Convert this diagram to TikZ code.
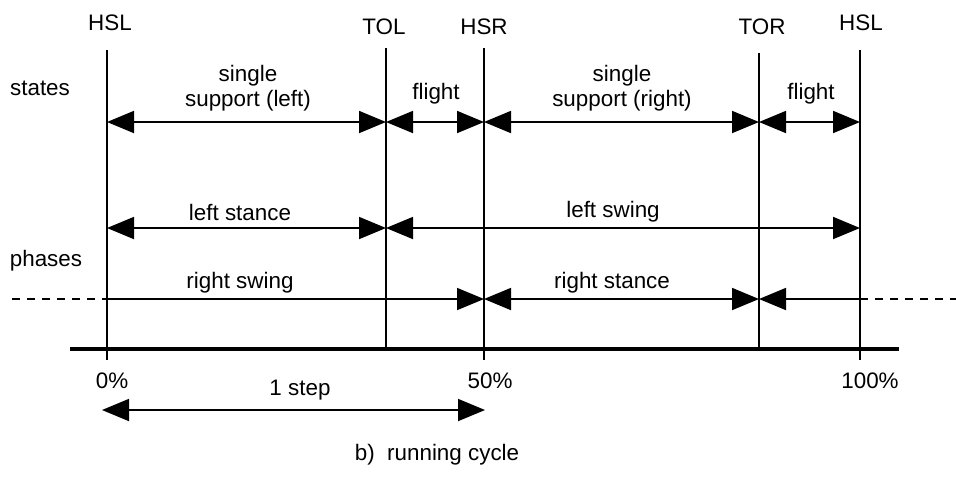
\documentclass[tikz,border=0pt]{standalone}
\usepackage{fontspec}
\setmainfont{Liberation Sans}
\usetikzlibrary{arrows.meta}
\begin{document}
\begin{tikzpicture}[x=0.5pt,y=-0.5pt,
  every node/.style={font=\fontsize{11.2}{12.5}\selectfont, inner sep=0pt, align=center},
  event/.style={line width=1.4pt},
  span/.style={line width=0.9pt, {Triangle[length=13.5pt,width=11pt]}-{Triangle[length=13.5pt,width=11pt]}},
  spanr/.style={line width=0.9pt, -{Triangle[length=13.5pt,width=11pt]}},
  spanl/.style={line width=0.9pt, {Triangle[length=13.5pt,width=11pt]}-},
  axis/.style={line width=2.2pt},
  ext/.style={line width=0.9pt, dash pattern=on 4pt off 3.5pt}]
\useasboundingbox (0,0) rectangle (956,495);

% event lines: x positions of the gait events
\coordinate (hsl-t) at (107,50);  \coordinate (hsl-b) at (107,360);
\coordinate (tol-t) at (386,48);  \coordinate (tol-b) at (386,349);
\coordinate (hsr-t) at (484,48);  \coordinate (hsr-b) at (484,360);
\coordinate (tor-t) at (759,53);  \coordinate (tor-b) at (759,349);
\coordinate (hse-t) at (860,50);  \coordinate (hse-b) at (860,360);
\draw[event] (hsl-t) -- (hsl-b);
\draw[event] (tol-t) -- (tol-b);
\draw[event] (hsr-t) -- (hsr-b);
\draw[event] (tor-t) -- (tor-b);
\draw[event] (hse-t) -- (hse-b);

% event names
\node (lbl-hsl) at (110,23) {HSL};
\node (lbl-tol) at (384,27) {TOL};
\node (lbl-hsr) at (484,27) {HSR};
\node (lbl-tor) at (762,27) {TOR};
\node (lbl-hse) at (861,23) {HSL};

% row titles
\node (states) at (40,88) {states};
\node (phases) at (46,261) {phases};

% states row
\coordinate (s0) at (107,122); \coordinate (s1) at (386,122);
\coordinate (s2) at (484,122); \coordinate (s3) at (759,122);
\coordinate (s4) at (860,122);
\draw[span] (s0) -- (s1);
\draw[span] (s1) -- (s2);
\draw[span] (s2) -- (s3);
\draw[span] (s3) -- (s4);
\node (ss-left) at (248,88) {single\\support (left)};
\node (fl-1) at (436,94) {flight};
\node (ss-right) at (622,88) {single\\support (right)};
\node (fl-2) at (811,94) {flight};

% phases, left leg
\coordinate (p0) at (107,228); \coordinate (p1) at (386,228);
\coordinate (p2) at (860,228);
\draw[span] (p0) -- (p1);
\draw[span] (p1) -- (p2);
\node (l-stance) at (240,212) {left stance};
\node (l-swing) at (613,212) {left swing};

% phases, right leg
\coordinate (q0) at (107,299); \coordinate (q1) at (484,299);
\coordinate (q2) at (759,299); \coordinate (q3) at (860,299);
\coordinate (qa) at (12,299);  \coordinate (qb) at (956,299);
\draw[spanr] (q0) -- (q1);
\draw[span] (q1) -- (q2);
\draw[spanl] (q2) -- (q3);
\draw[ext] (qa) -- (q0);
\draw[ext] (q3) -- (qb);
\node (r-swing) at (240,283) {right swing};
\node (r-stance) at (612,283) {right stance};

% time axis
\coordinate (ax0) at (70,349); \coordinate (ax1) at (899,349);
\draw[axis] (ax0) -- (ax1);
\node (pc0) at (112,381) {0\%};
\node (pc50) at (490,381) {50\%};
\node (pc100) at (870,381) {100\%};

% one step
\coordinate (st0) at (102,410); \coordinate (st1) at (485,410);
\draw[span] (st0) -- (st1);
\node (step) at (300,390) {1 step};

\node (caption) at (437,455) {b)\ \ running cycle};
\end{tikzpicture}
\end{document}
